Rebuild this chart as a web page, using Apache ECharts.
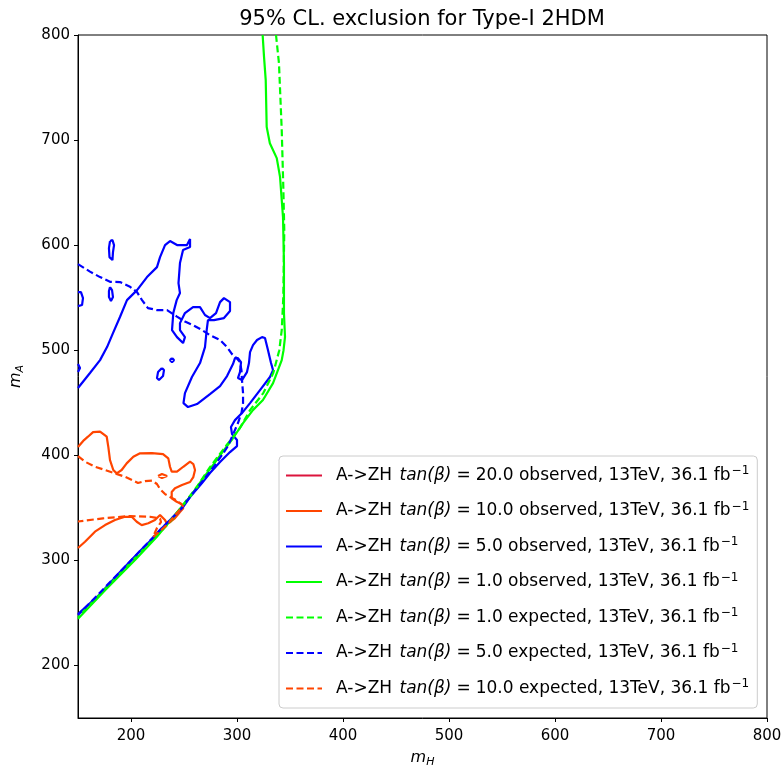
<!DOCTYPE html>
<html>
<head>
<meta charset="utf-8">
<script src="https://cdn.jsdelivr.net/npm/echarts@6/dist/echarts.min.js"></script>
<style>
html,body{margin:0;padding:0;background:#fff;}
#chart{width:783px;height:770px;}
</style>
</head>
<body>
<div id="chart"></div>
<script>
// ---- tick labels ----
const xTicks = [200, 300, 400, 500, 600, 700, 800];
const yTicks = [200, 300, 400, 500, 600, 700, 800];

// ---- tan(beta) = 20 observed: no visible contour in range ----
const tb20Obs = [];

// ---- tan(beta) = 10 observed ----
const tb10Obs = [
  [150,407.9],[155.7,414.5],[159.4,417.7],[164.2,422.1],[170.8,422.6],[177.1,417.7],[178.6,408.1],
  [180.2,395.5],[183.3,386.0],[186.5,382.8],[191.2,386.0],[195.9,392.3],[202.2,398.6],[208.5,401.9],
  [219.8,402.1],[230.2,401.2],[235.2,397.1],[236.8,389.1],[238.4,384.4],[243.4,384.4],[249.3,389.1],
  [255.7,393.9],[258.8,391.7],[260.4,386.0],[258.8,379.3],[255.7,374.6],[248.1,371.7],[241.5,368.6],
  [238.4,365.0],[238.4,359.0],[243.1,355.8],[247.8,353.6],[249.3,349.5],[246.2,346.0],[241.5,340.3],
  [236.8,336.5],[234.0,334.6],[232.1,338.4],[227.4,343.2],[222.6,338.4],[216.3,335.3],[210.1,333.6],
  [205.4,336.8],[200.7,341.5],[194.3,341.5],[184.9,338.4],[175.5,333.6],[166.0,327.3],[156.6,317.7],
  [150,311.8]
];
const tb10ObsIsland = [[225.5,380.3],[229.2,382.2],[234.0,380.3],[229.2,378.4],[225.5,380.3]];

// ---- tan(beta) = 10 expected ----
const tb10Exp = [
  [150,399.3],[156.6,393.9],[166.0,389.1],[175.5,386.0],[184.9,382.8],[194.3,379.6],[200.9,376.5],
  [206.6,373.6],[213.2,375.5],[219.8,376.0],[224.5,372.7],[227.4,367.9],[232.1,363.1],[236.8,360.3],
  [243.4,357.0],[249.1,351.7],[242.5,344.1],[234.9,334.6],[227.4,327.9],[220.8,322.2],[224.5,330.8],
  [228.3,336.5],[227.4,339.8],[217.9,341.5],[199.1,342.2],[173.6,340.0],[150,337.0]
];

// ---- tan(beta) = 5 observed ----
const tb5Obs = [
  [150,464.0],[161.3,478.3],[170.8,490.6],[177.4,503.0],[183.0,516.3],[189.6,531.6],[196.2,547.7],
  [205.7,557.2],[215.1,569.6],[224.5,579.1],[227.4,588.6],[232.1,600.1],[236.8,603.9],[243.4,600.1],
  [252.8,600.1],[255.7,605.8],[255.7,598.2],[249.1,595.3],[246.2,582.9],[244.8,563.9],[246.2,554.4],
  [243.1,547.7],[239.9,535.4],[238.7,519.2],[243.4,512.5],[249.1,506.8],[250.9,512.5],[246.2,519.2],
  [246.2,525.8],[250.9,535.4],[258.5,541.1],[265.1,541.1],[269.8,533.5],[274.5,530.6],[280.2,535.4],
  [284.0,545.8],[287.7,549.6],[293.4,545.8],[293.4,537.3],[287.7,530.6],[278.3,528.7],[272.6,528.7],
  [271.4,519.2],[269.8,503.0],[265.1,487.8],[257.5,474.5],[250.9,459.2],[249.5,449.7],[253.8,445.9],
  [262.3,448.8],[274.5,458.3],[284.0,465.9],[290.6,475.4],[296.2,486.8],[298.1,492.5],[300.9,492.5],
  [303.8,488.7],[302.8,479.2],[300.9,473.5],[304.7,471.6],[309.4,479.2],[311.3,487.8],[312.3,498.2],
  [315.1,504.9],[318.9,509.7],[323.6,512.5],[326.4,511.6],[329.2,500.2],[332.1,487.8],[334.0,481.1],
  [331.1,474.5],[321.7,462.1],[312.3,449.7],[304.7,440.2],[298.1,433.5],[294.3,426.9],[295.3,420.2],
  [300.0,414.5],[300.0,408.8],[293.4,403.1],[284.0,393.6],[274.5,383.1],[267.0,373.6],[255.7,360.3],
  [249.1,350.8],[239.6,341.3],[227.4,328.9],[220.8,321.3],[208.5,308.9],[189.6,288.9],[170.8,268.0],
  [150,249.0]
];
const tb5ObsIslandA = [[180.2,603.9],[182.5,604.8],[184.0,600.1],[183.0,593.4],[182.5,585.8],[181.1,583.9],[179.7,588.6],[179.2,597.2],[180.2,603.9]];
const tb5ObsIslandB = [[180.2,560.1],[182.1,557.2],[183.0,550.6],[181.1,546.8],[179.2,550.6],[179.2,556.3],[180.2,560.1]];
const tb5ObsIslandC = [[150,555.3],[152.8,555.3],[154.7,549.6],[153.8,543.0],[150,542.0]];
const tb5ObsIslandD = [[150,486.8],[151.9,483.0],[150,479.2]];
const tb5ObsIslandE = [[238.7,492.5],[240.6,490.6],[238.7,488.7],[236.8,490.6],[238.7,492.5]];
const tb5ObsIslandF = [[229.2,483.0],[231.1,481.1],[230.2,475.4],[226.4,471.6],[224.5,473.5],[225.5,479.2],[229.2,483.0]];

// ---- tan(beta) = 5 expected ----
const tb5Exp = [
  [150,582.0],[161.3,574.8],[170.8,569.6],[180.2,565.1],[189.6,564.9],[199.1,560.4],[205.7,555.3],
  [210.4,547.7],[216.0,540.1],[224.5,538.2],[234.0,538.2],[243.4,532.0],[250.9,527.3],[258.5,523.9],
  [267.0,519.2],[274.5,514.4],[284.0,509.7],[290.6,503.0],[295.3,496.3],[300.0,492.1],[302.8,488.7],
  [304.2,481.1],[304.7,471.6],[305.7,459.2],[305.7,449.7],[304.2,440.2],[300.9,430.7],[297.2,422.1],
  [291.5,408.8],[285.8,400.2],[279.2,390.7],[269.8,378.4],[258.5,364.1],[246.2,347.9],[227.4,328.9],
  [189.6,288.9],[150,248.0]
];

// ---- tan(beta) = 1 observed ----
const tb1Obs = [
  [324.2,800],[325.5,779.2],[327.1,757.0],[328.0,712.6],[331.0,697.0],[337.5,682.8],[340.6,665.0],
  [343.4,626.7],[344.3,583.0],[344.3,535.4],[345.3,512.6],[343.9,500.0],[342.2,490.6],[334.0,468.7],
  [324.5,452.6],[315.0,443.0],[305.7,430.7],[296.0,416.0],[287.0,404.0],[280.8,395.5],[268.0,378.0],
  [256.0,361.0],[251.0,355.0],[240.0,341.5],[224.2,322.2],[203.8,300.3],[176.0,272.0],[150,244.5]
];

// ---- tan(beta) = 1 expected ----
const tb1Exp = [
  [336.8,800],[339.6,773.0],[342.2,709.5],[343.7,655.0],[344.6,614.0],[343.7,550.6],[342.2,519.2],
  [339.9,500.0],[334.2,478.3],[324.8,459.2],[312.3,443.0],[302.8,426.0],[290.3,409.8],[274.5,388.8],
  [262.0,369.8],[251.0,355.5],[236.8,336.5],[150,246.0]
];

const NAMES = {
  o20: 'A->ZH tan(β) = 20.0 observed, 13TeV, 36.1 fb-1',
  o10: 'A->ZH tan(β) = 10.0 observed, 13TeV, 36.1 fb-1',
  o5:  'A->ZH tan(β) = 5.0 observed, 13TeV, 36.1 fb-1',
  o1:  'A->ZH tan(β) = 1.0 observed, 13TeV, 36.1 fb-1',
  e1:  'A->ZH tan(β) = 1.0 expected, 13TeV, 36.1 fb-1',
  e5:  'A->ZH tan(β) = 5.0 expected, 13TeV, 36.1 fb-1',
  e10: 'A->ZH tan(β) = 10.0 expected, 13TeV, 36.1 fb-1'
};
const C20 = '#DC143C', C10 = '#FF4500', C5 = '#0000FF', C1 = '#00FF00';

function mk(name, data, color, dashed) {
  return {
    name: name, type: 'line', data: data, symbol: 'none', smooth: false,
    animation: false, silent: true,
    lineStyle: { color: color, width: 2.2, type: dashed ? [7, 3.5] : 'solid' },
    itemStyle: { color: color }
  };
}

const series = [
  mk(NAMES.o20, tb20Obs, C20, false),
  mk(NAMES.o10, tb10Obs, C10, false),
  mk(NAMES.o10, tb10ObsIsland, C10, false),
  mk(NAMES.o5, tb5Obs, C5, false),
  mk(NAMES.o5, tb5ObsIslandA, C5, false),
  mk(NAMES.o5, tb5ObsIslandB, C5, false),
  mk(NAMES.o5, tb5ObsIslandC, C5, false),
  mk(NAMES.o5, tb5ObsIslandD, C5, false),
  mk(NAMES.o5, tb5ObsIslandE, C5, false),
  mk(NAMES.o5, tb5ObsIslandF, C5, false),
  mk(NAMES.o1, tb1Obs, C1, false),
  mk(NAMES.e1, tb1Exp, C1, true),
  mk(NAMES.e5, tb5Exp, C5, true),
  mk(NAMES.e10, tb10Exp, C10, true)
];

const FONT = 'DejaVu Sans';
const chart = echarts.init(document.getElementById('chart'), null, { renderer: 'canvas' });
chart.setOption({
  backgroundColor: '#fff',
  animation: false,
  title: {
    text: '95% CL. exclusion for Type-I 2HDM',
    left: 417, top: 4, textAlign: 'center',
    textStyle: { fontFamily: FONT, fontSize: 21, fontWeight: 'normal', color: '#000' }
  },
  grid: { left: 78, right: 16, top: 35, bottom: 52, show: true, borderColor: '#000', borderWidth: 1,
          backgroundColor: 'transparent', containLabel: false, outerBoundsMode: 'none' },
  xAxis: {
    type: 'value', min: 150, max: 800,
    name: '{i|m}{s|H}', nameLocation: 'middle', nameGap: 28,
    nameTextStyle: { rich: {
      i: { fontFamily: FONT, fontStyle: 'italic', fontSize: 16, color: '#000', lineHeight: 20 },
      s: { fontFamily: FONT, fontStyle: 'italic', fontSize: 11, color: '#000', lineHeight: 20, verticalAlign: 'bottom', padding: [8, 0, 0, 0] }
    } },
    axisLine: { show: true, onZero: false, lineStyle: { color: '#000', width: 1 } },
    axisTick: { show: true, inside: false, length: 4, lineStyle: { color: '#000' }, customValues: xTicks },
    axisLabel: { fontFamily: FONT, fontSize: 15, color: '#000', margin: 11, customValues: xTicks },
    splitLine: { show: false }
  },
  yAxis: {
    type: 'value', min: 150, max: 800,
    name: '{i|m}{s|A}', nameLocation: 'middle', nameGap: 52, nameRotate: 90,
    nameTextStyle: { rich: {
      i: { fontFamily: FONT, fontStyle: 'italic', fontSize: 16, color: '#000', lineHeight: 20 },
      s: { fontFamily: FONT, fontStyle: 'italic', fontSize: 11, color: '#000', lineHeight: 20, verticalAlign: 'bottom', padding: [8, 0, 0, 0] }
    } },
    axisLine: { show: true, onZero: false, lineStyle: { color: '#000', width: 1 } },
    axisTick: { show: true, inside: false, length: 4, lineStyle: { color: '#000' }, customValues: yTicks },
    axisLabel: { fontFamily: FONT, fontSize: 15, color: '#000', margin: 8, customValues: yTicks },
    splitLine: { show: false }
  },
  legend: {
    orient: 'vertical', left: 279, top: 456,
    padding: [9, 8, 11, 6], itemGap: 16.5, itemWidth: 36, itemHeight: 14,
    backgroundColor: 'rgba(255,255,255,0.8)', borderColor: '#cccccc', borderWidth: 1, borderRadius: 4,
    selectedMode: false,
    itemStyle: { opacity: 0 },
    data: [NAMES.o20, NAMES.o10, NAMES.o5, NAMES.o1, NAMES.e1, NAMES.e5, NAMES.e10],
    formatter: function (name) {
      const m = name.match(/= ([\d.]+) (\w+)/);
      return '{n|A->ZH }{i|tan(β)}{q|=}{n|' + m[1] + ' ' + m[2] + ', 13TeV, 36.1 fb}{s|−1}';
    },
    textStyle: {
      padding: [0, 0, 0, 9],
      rich: {
        n: { fontFamily: FONT, fontSize: 17, color: '#000', lineHeight: 21 },
        i: { fontFamily: FONT, fontSize: 17, fontStyle: 'italic', color: '#000', lineHeight: 21, padding: [0, 0, 0, 2] },
        q: { fontFamily: FONT, fontSize: 17, color: '#000', lineHeight: 21, padding: [0, 5, 0, 5] },
        s: { fontFamily: FONT, fontSize: 12, color: '#000', lineHeight: 21, verticalAlign: 'top', padding: [0, 0, 6, 1] }
      }
    }
  },
  series: series
});
</script>
</body>
</html>
